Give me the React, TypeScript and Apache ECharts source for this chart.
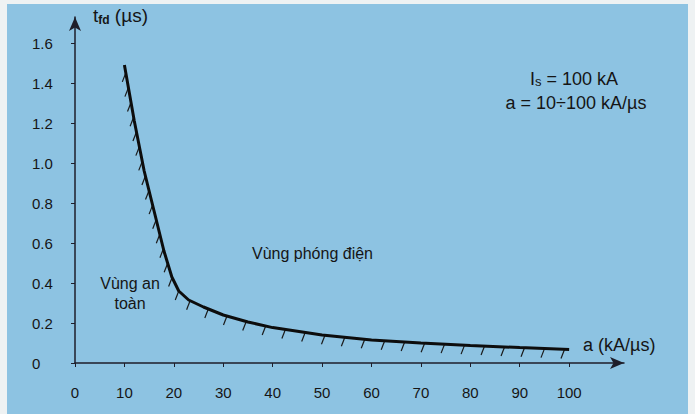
import React, { useEffect, useRef } from "react";
import * as echarts from "echarts";

// Curve: a (kA/µs) vs t_fd (µs)
const aValues = [10, 12, 14, 16, 18, 19.6, 21, 23, 26, 30, 35, 40, 50, 60, 70, 80, 90, 100];
const tfdValues = [1.49, 1.21, 0.96, 0.76, 0.56, 0.43, 0.36, 0.315, 0.28, 0.24, 0.205, 0.177, 0.14, 0.115, 0.1, 0.088, 0.077, 0.067];

const yTickValues = [0, 0.2, 0.4, 0.6, 0.8, 1.0, 1.2, 1.4, 1.6];
const xTickValues = [0, 10, 20, 30, 40, 50, 60, 70, 80, 90, 100];

const FONT = "'Liberation Sans', Arial, sans-serif";
const INK = "#151515";

export default function App() {
  const ref = useRef<HTMLDivElement>(null);
  useEffect(() => {
    if (!ref.current) return;
    const chart = echarts.init(ref.current, undefined, { renderer: "svg" });
    const pts = aValues.map((x, i) => [x, tfdValues[i]]);
    chart.setOption({
      animation: false,
      backgroundColor: "transparent",
      grid: { left: 75, right: 71, top: 17, bottom: 51 },
      xAxis: {
        type: "value",
        min: 0,
        max: 111.1,
        interval: 10,
        splitLine: { show: false },
        axisLine: {
          lineStyle: { color: "#1e1e2a", width: 1.5 },
          symbol: ["none", "arrow"],
          symbolSize: [9, 14],
        },
        axisTick: { customValues: xTickValues, length: 4, lineStyle: { color: "#1e1e2a" } },
        axisLabel: {
          customValues: xTickValues,
          margin: 22,
          fontSize: 15,
          fontFamily: FONT,
          color: INK,
        },
      },
      yAxis: {
        type: "value",
        min: 0,
        max: 1.73,
        interval: 0.2,
        splitLine: { show: false },
        axisLine: {
          lineStyle: { color: "#1e1e2a", width: 1.5 },
          symbol: ["none", "arrow"],
          symbolSize: [9, 14],
        },
        axisTick: { customValues: yTickValues, length: 4, lineStyle: { color: "#1e1e2a" } },
        axisLabel: {
          customValues: yTickValues,
          align: "left",
          margin: 43,
          fontSize: 15,
          fontFamily: FONT,
          color: INK,
          formatter: (v: number) => (v === 0 ? "0" : v.toFixed(1)),
        },
      },
      series: [
        {
          type: "custom",
          coordinateSystem: "cartesian2d",
          data: pts,
          encode: { x: 0, y: 1 },
          z: 3,
          renderItem: (params: any, api: any) => {
            if (params.dataIndex !== 0) return null;
            const p = aValues.map((x, i) => api.coord([x, tfdValues[i]]));
            const children: any[] = [];
            let next = 8;
            let acc = 0;
            for (let i = 0; i < p.length - 1; i++) {
              const [x0, y0] = p[i];
              const [x1, y1] = p[i + 1];
              const len = Math.hypot(x1 - x0, y1 - y0);
              const steep = Math.abs(y1 - y0) > Math.abs(x1 - x0);
              const spacing = steep ? 15 : 20;
              while (next <= acc + len) {
                const t = (next - acc) / len;
                const px = x0 + (x1 - x0) * t;
                const py = y0 + (y1 - y0) * t;
                children.push({
                  type: "line",
                  shape: { x1: px, y1: py, x2: px - 3.5, y2: py + 9 },
                  style: { stroke: "#1a1a1a", lineWidth: 1.2 },
                });
                next += spacing;
              }
              acc += len;
            }
            return { type: "group", children };
          },
        },
        {
          type: "line",
          data: pts,
          symbol: "none",
          z: 4,
          lineStyle: { color: "#0d0d0d", width: 3 },
        },
      ],
      graphic: [
        {
          type: "text",
          left: 93,
          top: 6,
          style: {
            text: "{t|t}{s|fd}{t| (µs)}",
            rich: {
              t: { fontSize: 19, fontFamily: FONT, fill: INK },
              s: { fontSize: 12, fontFamily: FONT, fill: INK, fontWeight: "bold", verticalAlign: "bottom", padding: [8, 0, 0, 0] },
            },
          },
        },
        {
          type: "text",
          left: 583,
          top: 336,
          style: { text: "a (kA/µs)", fontSize: 18, fontFamily: FONT, fill: INK },
        },
        {
          type: "text",
          x: 574,
          y: 79,
          style: {
            text: "{b|I}{s|s}{b| = 100 kA}",
            align: "center",
            verticalAlign: "middle",
            rich: {
              b: { fontSize: 18, fontFamily: FONT, fill: INK },
              s: { fontSize: 13, fontFamily: FONT, fill: INK, padding: [4, 0, 0, 0] },
            },
          },
        },
        {
          type: "text",
          x: 576,
          y: 103,
          style: {
            text: "a = 10÷100 kA/µs",
            align: "center",
            verticalAlign: "middle",
            fontSize: 18,
            fontFamily: FONT,
            fill: INK,
          },
        },
        {
          type: "text",
          x: 252,
          y: 253,
          style: { text: "Vùng phóng điện", verticalAlign: "middle", fontSize: 16, fontFamily: FONT, fill: INK },
        },
        {
          type: "text",
          x: 130,
          y: 293,
          style: {
            text: "Vùng an\ntoàn",
            align: "center",
            verticalAlign: "middle",
            lineHeight: 20,
            fontSize: 16,
            fontFamily: FONT,
            fill: INK,
          },
        },
      ],
    });
    return () => chart.dispose();
  }, []);

  return (
    <div style={{ position: "absolute", left: 0, top: 0, width: 695, height: 414, background: "#eef2f3", overflow: "hidden" }}>
      <div style={{ position: "absolute", left: 7, top: 4, width: 681, height: 410, background: "#8dc3e2" }} />
      <div ref={ref} style={{ position: "absolute", left: 0, top: 0, width: 695, height: 414 }} />
    </div>
  );
}
